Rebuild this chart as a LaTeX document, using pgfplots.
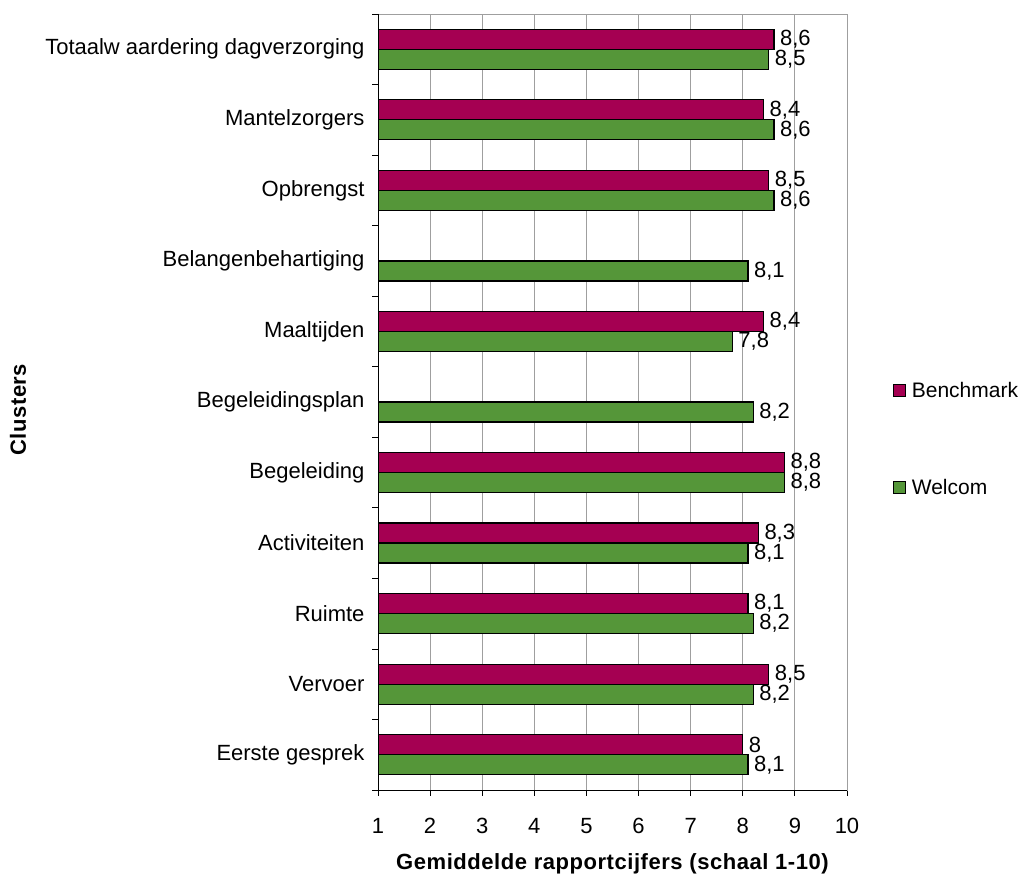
\documentclass[border=0pt]{standalone}
\usepackage{pgfplots}
\pgfplotsset{compat=1.18}
\usepackage{fontspec}
\setmainfont{Liberation Sans}
\definecolor{bench}{RGB}{165,0,82}
\definecolor{welc}{RGB}{85,150,57}
\newcommand{\lbl}{\fontsize{22}{26}\selectfont}
\newcommand{\lgd}{\fontsize{21}{25}\selectfont}
\newcommand{\ttl}{\fontsize{22}{26}\selectfont\bfseries\addfontfeatures{LetterSpace=2.5}}
\begin{document}
\begin{tikzpicture}
\useasboundingbox (0,0) rectangle (1022pt,875pt);
\begin{axis}[
  at={(378pt,85pt)}, anchor=south west,
  scale only axis, width=469pt, height=776pt,
  xbar, bar width=20pt,
  xmin=1, xmax=10, ymin=-0.5, ymax=10.5,
  xtick={1,...,10},
  ytick={-0.5,0.5,...,10.5},
  y tick label as interval,
  yticklabels={Eerste gesprek,Vervoer,Ruimte,Activiteiten,Begeleiding,Begeleidingsplan,Maaltijden,Belangenbehartiging,Opbrengst,Mantelzorgers,Totaalw aardering dagverzorging},
  tick align=outside, major tick length=6pt,
  xtick pos=bottom, ytick pos=left,
  tick style={black, line width=0.8pt},
  xmajorgrids, grid style={gray!75, line width=0.8pt},
  axis line style={gray!75, line width=0.8pt},
  /pgf/number format/assume math mode=true,
  /pgf/number format/use comma,
  every tick label/.append style={font=\lbl, text=black},
  xticklabel style={yshift=-19pt},
  yticklabel style={xshift=-4pt},
  xlabel={Gemiddelde rapportcijfers (schaal 1-10)},
  ylabel={Clusters},
  xlabel style={font=\ttl, at={(axis description cs:0.5,-0.0955)}, anchor=center},
  ylabel style={font=\ttl, at={(axis description cs:-0.7676,0.49)}, anchor=center},
  nodes near coords,
  nodes near coords style={font=\lbl, anchor=west, inner sep=5.5pt},
  legend style={at={(1.092,0.452)}, anchor=west, draw=none, fill=none,
    font=\lgd, row sep=76pt, cells={anchor=west}},
  legend image code/.code={\draw[#1, draw=black, line width=1pt] (0pt,-6pt) rectangle (12pt,6pt);
    \path[draw=none, fill=none] (16pt,0pt) circle (0pt);},
]
\addplot[fill=bench, draw=black, line width=1.2pt, bar shift=10pt] coordinates {
  (8.0,0) (8.5,1) (8.1,2) (8.3,3) (8.8,4) (8.4,6) (8.5,8) (8.4,9) (8.6,10)
};
\addplot[fill=welc, draw=black, line width=1.2pt, bar shift=-10pt] coordinates {
  (8.1,0) (8.2,1) (8.2,2) (8.1,3) (8.8,4) (8.2,5) (7.8,6) (8.1,7) (8.6,8) (8.6,9) (8.5,10)
};
\legend{Benchmark,Welcom}
\draw[black, line width=0.8pt] (rel axis cs:0,1) -- (rel axis cs:0,0) -- (rel axis cs:1,0);
\end{axis}
\end{tikzpicture}
\end{document}
